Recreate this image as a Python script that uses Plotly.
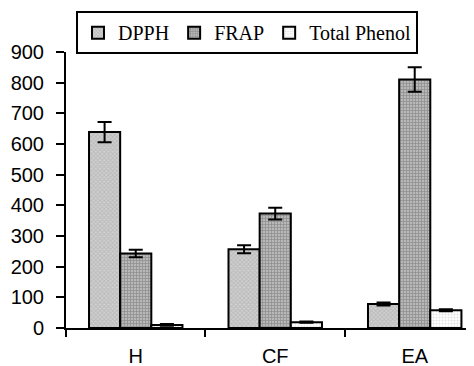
import plotly.graph_objects as go

categories = ["H", "CF", "EA"]
dpph = [639, 257, 78]
dpph_err = [33, 13, 5]
frap = [243, 373, 810]
frap_err = [12, 19, 40]
phenol = [10, 19, 58]
phenol_err = [3, 2, 3]
y_ticks = [0, 100, 200, 300, 400, 500, 600, 700, 800, 900]

series = [
    ("DPPH", dpph, dpph_err, dict(shape="x", fgcolor="#a4a4a4", bgcolor="#d0d0d0", size=3, solidity=0.5)),
    ("FRAP", frap, frap_err, dict(shape="+", fgcolor="#666666", bgcolor="#b8b8b8", size=3, solidity=0.45)),
    ("Total Phenol", phenol, phenol_err, dict(shape=".", fgcolor="#c4c4c4", bgcolor="#ffffff", size=3, solidity=0.35)),
]

fig = go.Figure()
for name, vals, errs, pat in series:
    fig.add_trace(go.Bar(
        x=categories, y=vals, name=name,
        marker=dict(pattern=pat, line=dict(color="black", width=2)),
        error_y=dict(type="data", array=errs, visible=True, color="black", thickness=2, width=7),
    ))

fig.update_layout(
    width=466, height=358,
    margin=dict(l=58, r=0, t=44, b=38, autoexpand=False),
    paper_bgcolor="white", plot_bgcolor="white",
    barmode="group", bargap=0.33, bargroupgap=0,
    showlegend=True,
    legend=dict(
        orientation="h", x=0.4436, xanchor="center", y=1.148, yanchor="top",
        bgcolor="white", bordercolor="black", borderwidth=2,
        font=dict(family="Liberation Serif", size=20, color="black"),
        itemwidth=30, tracegroupgap=0,
    ),
    font=dict(family="Liberation Sans", size=20, color="black"),
    xaxis=dict(
        range=[-0.5, 2.425], showline=True, linecolor="black", linewidth=2,
        ticks="outside", tickson="boundaries", ticklen=7, tickwidth=2, tickcolor="black",
        showgrid=False, zeroline=False, tickfont=dict(size=20), ticklabelstandoff=9,
    ),
    yaxis=dict(
        range=[0, 900], tickvals=y_ticks, showline=True, linecolor="black", linewidth=2,
        ticks="outside", ticklen=8, tickwidth=2, tickcolor="black",
        showgrid=False, zeroline=False, tickfont=dict(size=20), ticklabelstandoff=8,
    ),
)

fig.write_html("out.html")
